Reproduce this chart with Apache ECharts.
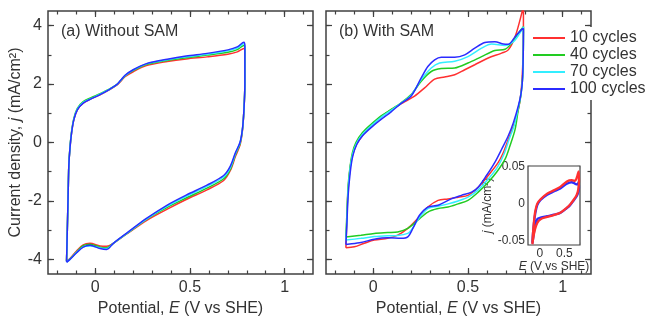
<!DOCTYPE html>
<html>
<head>
<meta charset="utf-8">
<script src="https://cdn.jsdelivr.net/npm/echarts@6/dist/echarts.min.js"></script>
<style>
  html, body { margin: 0; padding: 0; background: #fff; }
  #chart { width: 654px; height: 322px; }
</style>
</head>
<body>
<div id="chart"></div>
<script>
// legend / cycle names
const cycleNames = ['10 cycles', '40 cycles', '70 cycles', '100 cycles'];
const cycleColors = ['#ff3030', '#22cc22', '#33eeff', '#2b2bff'];

// tick values
const xMajor = [0, 0.5, 1];
const xMinor = [-0.2, -0.1, 0, 0.1, 0.2, 0.3, 0.4, 0.5, 0.6, 0.7, 0.8, 0.9, 1, 1.1];
const yMajor = [-4, -2, 0, 2, 4];
const yMinor = [-4, -3, -2, -1, 0, 1, 2, 3, 4];
const insetXMajor = [0, 0.5];
const insetXMinor = [-0.2, -0.1, 0, 0.1, 0.2, 0.3, 0.4, 0.5, 0.6, 0.7, 0.8];
const insetYMajor = [-0.05, 0, 0.05];
const insetYMinor = [-0.05, -0.025, 0, 0.025, 0.05];

// (a) without SAM: potential (V) along the loop, anodic then cathodic
const leftE = [-0.152, -0.148, -0.144, -0.14, -0.134, -0.125, -0.113, -0.095, -0.064, -0.02, 0.025, 0.078,
  0.113, 0.135, 0.157, 0.2, 0.27, 0.38, 0.48, 0.59, 0.7, 0.75, 0.785,
  0.79, 0.79, 0.785, 0.777, 0.764, 0.74, 0.714, 0.678, 0.59, 0.48, 0.38, 0.27, 0.166, 0.095, 0.06,
  0.025, -0.028, -0.064, -0.1, -0.134, -0.152];
const leftJ10 = [-4.05, -3.0, -1.9, -0.8, -0.2, 0.35, 0.79, 1.12, 1.35, 1.5, 1.63, 1.82,
  1.96, 2.1, 2.25, 2.42, 2.63, 2.77, 2.86, 2.93, 3.02, 3.1, 3.22,
  3.1, 2.0, 1.1, 0.4, -0.1, -0.48, -0.95, -1.3, -1.62, -1.95, -2.28, -2.67, -3.13, -3.45, -3.55,
  -3.54, -3.45, -3.5, -3.72, -3.97, -4.05];
const leftJ40 = [-4.06, -3.0, -1.9, -0.78, -0.17, 0.4, 0.84, 1.17, 1.4, 1.54, 1.67, 1.84,
  1.98, 2.12, 2.28, 2.46, 2.67, 2.81, 2.9, 2.99, 3.09, 3.18, 3.32,
  3.2, 2.0, 1.1, 0.42, -0.05, -0.42, -0.9, -1.24, -1.56, -1.9, -2.22, -2.63, -3.12, -3.45, -3.6,
  -3.58, -3.48, -3.53, -3.75, -3.99, -4.07];
const leftJ70 = [-4.07, -3.0, -1.9, -0.8, -0.19, 0.37, 0.81, 1.14, 1.37, 1.51, 1.65, 1.83,
  1.98, 2.13, 2.29, 2.48, 2.69, 2.83, 2.93, 3.02, 3.14, 3.23, 3.38,
  3.25, 2.0, 1.1, 0.44, -0.02, -0.38, -0.85, -1.18, -1.5, -1.84, -2.18, -2.62, -3.11, -3.45, -3.63,
  -3.61, -3.54, -3.57, -3.77, -4.0, -4.09];
const leftJ100 = [-4.08, -3.0, -1.9, -0.8, -0.2, 0.35, 0.79, 1.12, 1.35, 1.5, 1.64, 1.83,
  1.98, 2.14, 2.3, 2.49, 2.7, 2.85, 2.96, 3.05, 3.17, 3.27, 3.43,
  3.3, 2.0, 1.1, 0.45, 0.0, -0.35, -0.8, -1.13, -1.46, -1.8, -2.14, -2.6, -3.1, -3.45, -3.66,
  -3.63, -3.52, -3.58, -3.78, -4.0, -4.1];

// (b) with SAM: [E, j] pairs along each loop
const rightC10 = [[-0.145, -3.6], [-0.142, -3.06], [-0.136, -1.93], [-0.127, -1.13], [-0.115, -0.57], [-0.092, -0.11],
  [-0.065, 0.17], [-0.03, 0.45], [0.005, 0.68], [0.058, 0.96], [0.112, 1.19], [0.156, 1.36], [0.218, 1.59],
  [0.271, 1.87], [0.324, 2.17], [0.377, 2.24], [0.43, 2.32], [0.483, 2.49], [0.536, 2.66], [0.607, 2.89],
  [0.678, 3.06], [0.713, 3.17], [0.749, 3.62], [0.784, 4.42], [0.793, 4.7], [0.793, 3.8], [0.789, 2.6],
  [0.78, 1.7], [0.766, 1.13], [0.74, 0.57], [0.713, 0.11], [0.687, -0.34], [0.66, -0.68], [0.607, -1.13],
  [0.554, -1.53], [0.5, -1.81], [0.448, -1.87], [0.395, -1.93], [0.342, -1.98], [0.288, -2.21], [0.235, -2.6],
  [0.182, -2.94], [0.129, -3.17], [0.076, -3.28], [0.005, -3.34], [-0.048, -3.45], [-0.1, -3.57], [-0.145, -3.6]];
const rightC40 = [[-0.145, -3.23], [-0.14, -2.49], [-0.133, -1.47], [-0.122, -0.79], [-0.11, -0.34], [-0.092, 0.0],
  [-0.057, 0.34], [-0.012, 0.62], [0.041, 0.91], [0.094, 1.13], [0.147, 1.36], [0.2, 1.64], [0.253, 2.1],
  [0.306, 2.43], [0.359, 2.53], [0.43, 2.55], [0.5, 2.72], [0.572, 2.94], [0.642, 3.15], [0.696, 3.19],
  [0.731, 3.4], [0.766, 3.74], [0.793, 3.96], [0.793, 3.74], [0.789, 2.26], [0.779, 1.59], [0.766, 1.13],
  [0.749, 0.45], [0.722, -0.11], [0.696, -0.57], [0.651, -1.02], [0.607, -1.36], [0.554, -1.7], [0.5, -1.98],
  [0.448, -2.1], [0.395, -2.21], [0.342, -2.26], [0.288, -2.38], [0.235, -2.66], [0.182, -2.94], [0.129, -3.06],
  [0.076, -3.08], [0.005, -3.11], [-0.065, -3.17], [-0.145, -3.23]];
const rightC70 = [[-0.145, -3.34], [-0.14, -2.7], [-0.134, -1.7], [-0.124, -0.95], [-0.11, -0.42], [-0.09, -0.05],
  [-0.057, 0.28], [-0.012, 0.57], [0.041, 0.86], [0.094, 1.1], [0.147, 1.35], [0.2, 1.62], [0.253, 2.15],
  [0.306, 2.55], [0.35, 2.72], [0.43, 2.78], [0.5, 2.94], [0.572, 3.23], [0.625, 3.37], [0.696, 3.32],
  [0.74, 3.45], [0.77, 3.7], [0.793, 3.96], [0.793, 3.74], [0.789, 2.26], [0.78, 1.65], [0.766, 1.2],
  [0.745, 0.6], [0.717, 0.1], [0.69, -0.4], [0.655, -0.85], [0.607, -1.25], [0.554, -1.62], [0.5, -1.87],
  [0.448, -2.0], [0.395, -2.1], [0.342, -2.18], [0.288, -2.26], [0.245, -2.55], [0.2, -3.0], [0.182, -3.11],
  [0.129, -3.18], [0.076, -3.19], [0.005, -3.22], [-0.065, -3.28], [-0.145, -3.34]];
const rightC100 = [[-0.145, -3.49], [-0.14, -2.83], [-0.133, -1.81], [-0.122, -1.02], [-0.108, -0.45], [-0.087, -0.06],
  [-0.057, 0.23], [-0.012, 0.51], [0.041, 0.79], [0.094, 1.05], [0.147, 1.34], [0.2, 1.59], [0.253, 2.21],
  [0.288, 2.6], [0.324, 2.83], [0.359, 2.92], [0.43, 2.92], [0.483, 3.0], [0.536, 3.23], [0.589, 3.42],
  [0.642, 3.45], [0.687, 3.37], [0.713, 3.36], [0.749, 3.62], [0.784, 3.87], [0.793, 3.9], [0.793, 3.74],
  [0.789, 2.26], [0.781, 1.7], [0.766, 1.25], [0.74, 0.68], [0.713, 0.23], [0.678, -0.23], [0.642, -0.68],
  [0.598, -1.13], [0.554, -1.53], [0.519, -1.7], [0.465, -1.81], [0.412, -1.93], [0.342, -2.15], [0.288, -2.21],
  [0.244, -2.49], [0.209, -2.94], [0.182, -3.23], [0.147, -3.28], [0.076, -3.26], [0.005, -3.31], [-0.065, -3.42],
  [-0.145, -3.49]];

// inset: blank electrode, mA/cm2
const insetC10 = [[-0.151, -0.053], [-0.138, -0.04], [-0.118, -0.024], [-0.091, -0.01], [-0.051, 0.0], [0.016, 0.006],
  [0.15, 0.0136], [0.284, 0.018], [0.418, 0.0227], [0.552, 0.03], [0.652, 0.0318], [0.719, 0.031], [0.766, 0.0377],
  [0.792, 0.0436], [0.799, 0.031], [0.786, 0.0195], [0.752, 0.0118], [0.699, 0.006], [0.619, -0.001], [0.552, -0.0055],
  [0.418, -0.0123], [0.284, -0.0155], [0.15, -0.018], [0.016, -0.021], [-0.051, -0.026], [-0.098, -0.035],
  [-0.131, -0.046], [-0.151, -0.055]];
const insetC100 = [[-0.151, -0.052], [-0.138, -0.04], [-0.118, -0.026], [-0.091, -0.013], [-0.051, -0.002], [0.016, 0.005],
  [0.15, 0.012], [0.284, 0.0165], [0.418, 0.0205], [0.552, 0.027], [0.652, 0.029], [0.719, 0.027], [0.766, 0.026],
  [0.792, 0.029], [0.799, 0.022], [0.786, 0.016], [0.752, 0.01], [0.699, 0.005], [0.619, -0.002], [0.552, -0.006],
  [0.418, -0.0125], [0.284, -0.015], [0.15, -0.017], [0.016, -0.019], [-0.051, -0.021], [-0.098, -0.031],
  [-0.131, -0.045], [-0.151, -0.054]];

const FONT = '"Liberation Sans", Arial, sans-serif';
const INK = '#404040';
const TXT = '#333';

// one tick-only axis; frame comes from the grid border
function tickAxis(grid, pos, min, max, ticks, len, labels, extra) {
  return Object.assign({
    type: 'value', gridIndex: grid, position: pos, min: min, max: max,
    axisLine: { show: false, onZero: false },
    splitLine: { show: false },
    axisTick: { show: true, inside: true, length: len, customValues: ticks, lineStyle: { color: INK, width: 1.2 } },
    axisLabel: labels
      ? { show: true, customValues: labels, color: TXT, fontSize: 16, fontFamily: FONT, margin: 6 }
      : { show: false }
  }, extra || {});
}

const xMin = -0.25, xMax = 1.15, yMin = -4.5, yMax = 4.5;
const insXMin = -0.24, insXMax = 0.82, insYMin = -0.056, insYMax = 0.051;

const xName = {
  name: 'Potential, {i|E} (V vs SHE)', nameLocation: 'middle', nameGap: 27,
  nameTextStyle: { fontSize: 16, color: TXT, fontFamily: FONT, rich: { i: { fontStyle: 'italic', fontSize: 16, color: TXT, fontFamily: FONT } } }
};

const xAxes = [];
const yAxes = [];
[0, 1].forEach(function (g) {
  xAxes.push(tickAxis(g, 'bottom', xMin, xMax, xMajor, 6, xMajor, xName));
  xAxes.push(tickAxis(g, 'bottom', xMin, xMax, xMinor, 3.5));
  xAxes.push(tickAxis(g, 'top', xMin, xMax, xMajor, 6));
  xAxes.push(tickAxis(g, 'top', xMin, xMax, xMinor, 3.5));
  if (g === 0) {
    yAxes.push(tickAxis(g, 'left', yMin, yMax, yMajor, 6, yMajor, {
      name: 'Current density, {i|j} (mA/cm²)', nameLocation: 'middle', nameGap: 16, nameRotate: 90,
      nameTextStyle: { fontSize: 16, color: TXT, fontFamily: FONT, rich: { i: { fontStyle: 'italic', fontSize: 16, color: TXT, fontFamily: FONT } } }
    }));
  } else {
    yAxes.push(tickAxis(g, 'left', yMin, yMax, yMajor, 6));
  }
  yAxes.push(tickAxis(g, 'left', yMin, yMax, yMinor, 3.5));
  yAxes.push(tickAxis(g, 'right', yMin, yMax, yMajor, 6));
  yAxes.push(tickAxis(g, 'right', yMin, yMax, yMinor, 3.5));
});

// inset axes (grid 2)
const insetLabel = { show: true, color: TXT, fontSize: 12, fontFamily: FONT, margin: 3 };
xAxes.push(tickAxis(2, 'bottom', insXMin, insXMax, insetXMinor, 2.5, insetXMajor, {
  name: '{i|E} (V vs SHE)', nameLocation: 'middle', nameGap: 14,
  nameTextStyle: { fontSize: 12, color: TXT, fontFamily: FONT, rich: { i: { fontStyle: 'italic', fontSize: 12, color: TXT, fontFamily: FONT } } }
}));
xAxes.push(tickAxis(2, 'top', insXMin, insXMax, insetXMinor, 2.5));
yAxes.push(tickAxis(2, 'left', insYMin, insYMax, insetYMinor, 2.5, insetYMajor, {
  name: '{i|j} (mA/cm²)', nameLocation: 'middle', nameGap: 13, nameRotate: 90,
  nameTextStyle: { fontSize: 12, color: TXT, fontFamily: FONT, rich: { i: { fontStyle: 'italic', fontSize: 12, color: TXT, fontFamily: FONT } } }
}));
yAxes.push(tickAxis(2, 'right', insYMin, insYMax, insetYMinor, 2.5));
xAxes[8].axisLabel = Object.assign({}, insetLabel, { customValues: insetXMajor });
yAxes[8].axisLabel = Object.assign({}, insetLabel, { customValues: insetYMajor });

function curve(name, idx, xIdx, yIdx, data, width, z) {
  return {
    name: name, type: 'line', xAxisIndex: xIdx, yAxisIndex: yIdx, data: data,
    symbol: 'none', smooth: 0.3, z: z || 2, animation: false,
    itemStyle: { color: cycleColors[idx] },
    lineStyle: { color: cycleColors[idx], width: width }
  };
}

const leftSets = [leftJ10, leftJ40, leftJ70, leftJ100];
const rightSets = [rightC10, rightC40, rightC70, rightC100];
const series = [];
leftSets.forEach(function (j, i) {
  series.push(curve(cycleNames[i], i, 0, 0, leftE.map(function (e, k) { return [e, j[k]]; }), 1.5));
});
rightSets.forEach(function (d, i) {
  series.push(curve(cycleNames[i], i, 4, 4, d, 1.5));
});
series.push(curve(cycleNames[3], 3, 8, 8, insetC100, 2.3, 5));
series.push(curve(cycleNames[0], 0, 8, 8, insetC10, 2.3, 6));

const chart = echarts.init(document.getElementById('chart'), null, { renderer: 'canvas' });

const option = {
  backgroundColor: '#fff',
  animation: false,
  textStyle: { fontFamily: FONT },
  grid: [
    { left: 48, top: 11, width: 265, height: 264, show: true, borderColor: INK, borderWidth: 1.5, backgroundColor: 'transparent' },
    { left: 326, top: 11, width: 265, height: 264, show: true, borderColor: INK, borderWidth: 1.5, backgroundColor: 'transparent' },
    { left: 528, top: 166, width: 52, height: 79, show: true, borderColor: INK, borderWidth: 1.2, backgroundColor: '#fff', z: 3 }
  ],
  xAxis: xAxes,
  yAxis: yAxes,
  legend: {
    orient: 'vertical', left: 531, top: 27,
    backgroundColor: '#fff', padding: [3, 12, 3, 2], itemGap: 1,
    icon: 'rect', itemWidth: 32, itemHeight: 2,
    textStyle: { fontSize: 16, color: TXT, fontFamily: FONT, lineHeight: 16 },
    data: cycleNames, z: 10
  },
  graphic: [
    { type: 'text', left: 61, top: 24, style: { text: '(a) Without SAM', fontSize: 16, fontFamily: FONT, fill: TXT } },
    { type: 'text', left: 339, top: 24, style: { text: '(b) With SAM', fontSize: 16, fontFamily: FONT, fill: TXT } }
  ],
  series: series
};

chart.setOption(option);
</script>
</body>
</html>
